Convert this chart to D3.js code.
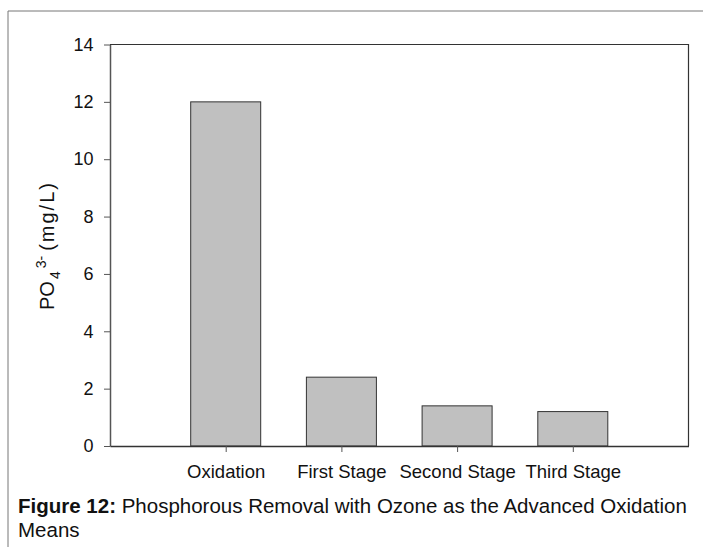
<!DOCTYPE html>
<html>
<head>
<meta charset="utf-8">
<script src="https://cdn.jsdelivr.net/npm/d3@7"></script>
<style>
  body { margin: 0; background: #fff; }
  svg text { font-family: "Liberation Sans", Arial, sans-serif; fill: #111; }
</style>
</head>
<body>
<div id="viz"></div>
<script>
// chart data
const categories = ["Oxidation", "First Stage", "Second Stage", "Third Stage"];
const values = [12.0, 2.4, 1.4, 1.2];
const yTicks = [0, 2, 4, 6, 8, 10, 12, 14];

const W = 703, H = 547;
const plot = {left: 110, right: 688.5, top: 44.5, bottom: 446};
const font = "Liberation Sans, Arial, sans-serif";

const svg = d3.select("#viz").append("svg")
    .attr("width", W)
    .attr("height", H);

// page frame (top and left rule only)
svg.append("line").attr("x1", 8).attr("x2", W).attr("y1", 11).attr("y2", 11)
    .attr("stroke", "#777").attr("stroke-width", 1);
svg.append("line").attr("x1", 8).attr("x2", 8).attr("y1", 11).attr("y2", H)
    .attr("stroke", "#777").attr("stroke-width", 1);

// scales
const x = d3.scalePoint().domain(categories)
    .range([plot.left, plot.right]).padding(1);
const y = d3.scaleLinear().domain([0, 14]).range([plot.bottom, plot.top]);
const barW = x.step() * 0.605;

// bars
svg.append("g").selectAll("rect")
    .data(values).enter()
    .append("rect")
    .attr("x", (d, i) => x(categories[i]) - barW / 2)
    .attr("y", d => y(d))
    .attr("width", barW)
    .attr("height", d => y(0) - y(d))
    .attr("fill", "#c0c0c0")
    .attr("stroke", "#333")
    .attr("stroke-width", 1);

// frame: top and right lines
svg.append("path")
    .attr("d", `M${plot.left},${plot.top}H${plot.right}V${plot.bottom}`)
    .attr("fill", "none").attr("stroke", "#333").attr("stroke-width", 1.2);

// y axis
const yAxis = svg.append("g")
    .attr("transform", `translate(${plot.left},0)`)
    .call(d3.axisLeft(y).tickValues(yTicks).tickSize(6).tickPadding(10.5).tickSizeOuter(0));
yAxis.select(".domain").attr("stroke", "#555").attr("stroke-width", 1.5);
yAxis.selectAll(".tick line").attr("stroke", "#555");
yAxis.selectAll("text").attr("font-size", "18px").attr("fill", "#111")
    .attr("font-family", font);

// x axis
const xAxis = svg.append("g")
    .attr("transform", `translate(0,${plot.bottom})`)
    .call(d3.axisBottom(x).tickSize(6).tickPadding(12.5).tickSizeOuter(0));
xAxis.select(".domain").attr("stroke", "#333").attr("stroke-width", 1.5);
xAxis.selectAll(".tick line").attr("stroke", "#555");
xAxis.selectAll("text").attr("font-size", "18.5px").attr("fill", "#111")
    .attr("font-family", font);

// y label: PO4 3- (mg/L)
const yl = svg.append("text")
    .attr("transform", "translate(53.5,310) rotate(-90)")
    .attr("text-anchor", "start")
    .attr("font-size", "20px");
yl.append("tspan").text("PO");
yl.append("tspan").attr("font-size", "14px").attr("dx", 2).attr("dy", 6).text("4");
yl.append("tspan").attr("font-size", "14px").attr("dx", 3).attr("dy", -13.5).text("3-");
yl.append("tspan").attr("dx", 5).attr("dy", 7.5).attr("letter-spacing", 2).text("(mg/L)");

// caption
const cap = svg.append("text")
    .attr("x", 18).attr("y", 513)
    .attr("font-size", "20.5px");
cap.append("tspan").attr("font-weight", "bold").text("Figure 12:");
cap.append("tspan").text(" Phosphorous Removal with Ozone as the Advanced Oxidation");
svg.append("text")
    .attr("x", 18).attr("y", 537)
    .attr("font-size", "20.5px")
    .text("Means");
</script>
</body>
</html>
